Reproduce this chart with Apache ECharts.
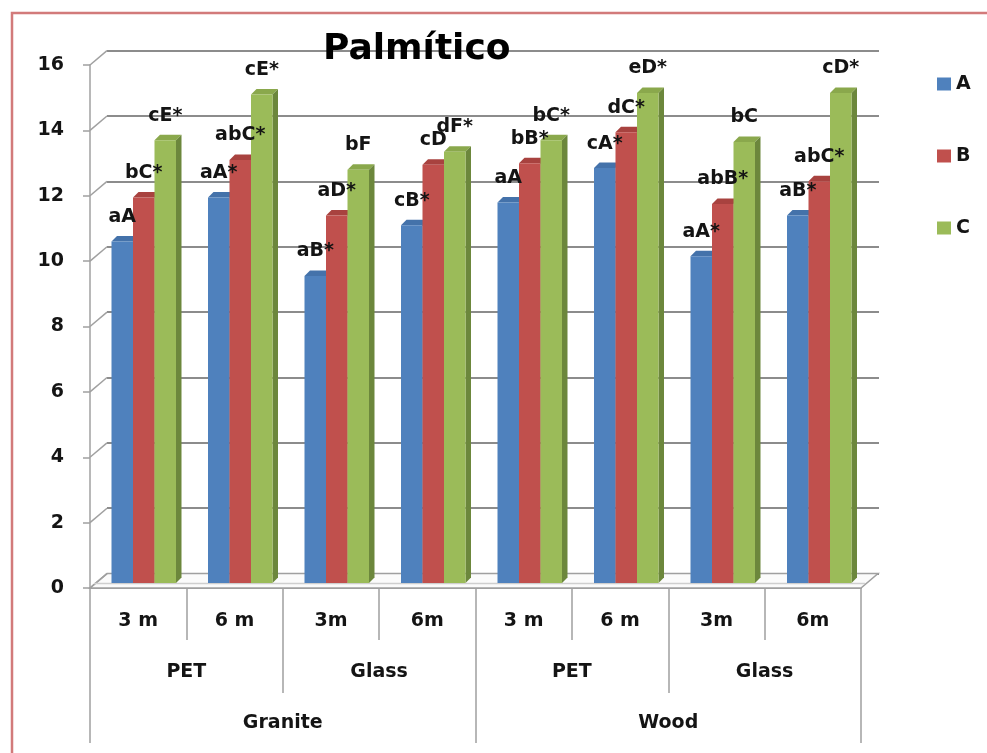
<!DOCTYPE html>
<html>
<head>
<meta charset="utf-8">
<title>Palmítico</title>
<script src="https://cdn.jsdelivr.net/npm/echarts@6/dist/echarts.min.js"></script>
<style>
  html, body { margin: 0; padding: 0; background: #ffffff; }
  #chart { width: 987px; height: 753px; }
</style>
</head>
<body>
<div id="chart"></div>
<script>
// ---- data ----
const storageTimes = ['3 m', '6 m', '3m', '6m', '3 m', '6 m', '3m', '6m'];
const packagings = ['PET', 'Glass', 'PET', 'Glass'];
const substrates = ['Granite', 'Wood'];
const seriesNames = ['A', 'B', 'C'];

const valuesA = [10.45, 11.8, 9.4, 10.95, 11.65, 12.7, 10.0, 11.25];
const valuesB = [11.8, 12.95, 11.25, 12.8, 12.85, 13.8, 11.6, 12.3];
const valuesC = [13.55, 14.95, 12.65, 13.2, 13.55, 15.0, 13.5, 15.0];

const labelsA = ['aA', 'aA*', 'aB*', 'cB*', 'aA', 'cA*', 'aA*', 'aB*'];
const labelsB = ['bC*', 'abC*', 'aD*', 'cD', 'bB*', 'dC*', 'abB*', 'abC*'];
const labelsC = ['cE*', 'cE*', 'bF', 'dF*', 'bC*', 'eD*', 'bC', 'cD*'];

const yTicks = [0, 2, 4, 6, 8, 10, 12, 14, 16];

// ---- styling ----
const FONT = 'DejaVu Sans';
const frontColors = ['#4F81BD', '#C0504D', '#9BBB59'];
const topColors = ['#4472AA', '#A8423F', '#8AA84C'];
const sideColors = ['#3A6394', '#8F3A38', '#6C873C'];
const BAR_W = 21.5;      // front face width of one column
const BAR_D = 5.5;       // column depth (oblique offset)
const WALL_DX = 17;      // front plane -> back wall offset
const WALL_DY = -14.4;
const AXIS_GRAY = '#A0A0A0';

const valueSets = [valuesA, valuesB, valuesC];
const labelSets = [labelsA, labelsB, labelsC];

const chart = echarts.init(document.getElementById('chart'), null, { renderer: 'canvas' });

// column bodies (front faces) with their letter labels
const barSeries = seriesNames.map((name, k) => ({
  name: name,
  type: 'bar',
  xAxisIndex: 3,
  yAxisIndex: 2,
  z: 3,
  barWidth: BAR_W,
  barGap: '0%',
  data: valueSets[k],
  itemStyle: { color: frontColors[k] },
  label: {
    show: true,
    position: 'top',
    distance: 15,
    fontFamily: FONT,
    fontWeight: 'bold',
    fontSize: 19,
    color: '#141414',
    formatter: p => labelSets[k][p.dataIndex]
  }
}));

// top and right faces of each column, giving the 3-D look
const depthSeries = seriesNames.map((name, k) => ({
  name: name + ' depth',
  type: 'custom',
  xAxisIndex: 3,
  yAxisIndex: 2,
  z: 2,
  silent: true,
  data: valueSets[k].map((v, i) => [i, v]),
  encode: { x: 0, y: 1 },
  renderItem: function (params, api) {
    const i = api.value(0);
    const v = api.value(1);
    const top = api.coord([i, v]);
    const base = api.coord([i, 0]);
    const x0 = top[0] + (k - 1.5) * BAR_W;
    const x1 = x0 + BAR_W;
    const y = top[1];
    return {
      type: 'group',
      children: [
        {
          type: 'polygon',
          shape: { points: [[x0, y], [x1, y], [x1 + BAR_D, y - BAR_D], [x0 + BAR_D, y - BAR_D]] },
          style: { fill: topColors[k] }
        },
        {
          type: 'polygon',
          shape: { points: [[x1, y], [x1 + BAR_D, y - BAR_D], [x1 + BAR_D, base[1] - BAR_D], [x1, base[1]]] },
          style: { fill: sideColors[k] }
        }
      ]
    };
  }
}));

// oblique tick links from the front axis to the back wall, plus the floor
const wallLinks = {
  name: 'wall links',
  type: 'custom',
  xAxisIndex: 0,
  yAxisIndex: 1,
  z: 1,
  silent: true,
  data: yTicks.map(v => [0, v]),
  encode: { x: 0, y: 1 },
  renderItem: function (params, api) {
    const cs = params.coordSys;
    const v = api.value(1);
    const y = api.coord([0, v])[1];
    const children = [{
      type: 'line',
      shape: { x1: cs.x, y1: y, x2: cs.x + WALL_DX, y2: y + WALL_DY },
      style: { stroke: AXIS_GRAY, lineWidth: 1.5 }
    }];
    if (v === 0) {
      const xr = cs.x + cs.width;
      children.unshift({
        type: 'polygon',
        shape: { points: [[cs.x, y], [xr, y], [xr + WALL_DX, y + WALL_DY], [cs.x + WALL_DX, y + WALL_DY]] },
        style: { fill: '#FBFBFB', stroke: AXIS_GRAY, lineWidth: 1.5 }
      });
      children.push({
        type: 'line',
        shape: { x1: cs.x + 4, y1: y - 4.5, x2: xr + 4, y2: y - 4.5 },
        style: { stroke: '#CFCFCF', lineWidth: 1.5 }
      });
    }
    return { type: 'group', children: children };
  }
};

const labelFont = { fontFamily: FONT, fontWeight: 'bold', fontSize: 19, color: '#141414' };

const option = {
  animation: false,
  backgroundColor: '#ffffff',
  title: {
    text: 'Palmítico',
    left: 318,
    top: 27,
    textStyle: { fontFamily: FONT, fontWeight: 'bold', fontSize: 36, color: '#000000' }
  },
  legend: {
    data: seriesNames,
    orient: 'vertical',
    left: 932,
    top: 69,
    itemWidth: 14,
    itemHeight: 13,
    itemGap: 52,
    icon: 'rect',
    textStyle: Object.assign({ lineHeight: 20 }, labelFont)
  },
  graphic: [{
    type: 'rect',
    silent: true,
    shape: { x: 12, y: 13, width: 1100, height: 900 },
    style: { fill: 'none', stroke: '#D27A7A', lineWidth: 2.5 }
  }],
  grid: [
    // back wall
    { left: 107, right: 108, top: 50.7, bottom: 179.6 },
    // front plane: value axis and category axis
    { left: 90, right: 126, top: 65, bottom: 165 },
    // columns
    { left: 95.5, right: 119.5, top: 60.3, bottom: 170 }
  ],
  xAxis: [
    {
      gridIndex: 1, type: 'category', position: 'bottom', data: storageTimes,
      axisLine: { show: true, lineStyle: { color: AXIS_GRAY, width: 2 } },
      axisTick: { show: true, interval: 0, length: 52, lineStyle: { color: AXIS_GRAY, width: 1.5 } },
      axisLabel: Object.assign({ interval: 0, margin: 24 }, labelFont)
    },
    {
      gridIndex: 1, type: 'category', position: 'bottom', data: packagings,
      axisLine: { show: false },
      axisTick: { show: true, interval: 0, length: 105, lineStyle: { color: AXIS_GRAY, width: 1.5 } },
      axisLabel: Object.assign({ interval: 0, margin: 75 }, labelFont)
    },
    {
      gridIndex: 1, type: 'category', position: 'bottom', data: substrates,
      axisLine: { show: false },
      axisTick: { show: true, interval: 0, length: 155, lineStyle: { color: AXIS_GRAY, width: 1.5 } },
      axisLabel: Object.assign({ interval: 0, margin: 126 }, labelFont)
    },
    { gridIndex: 2, type: 'category', data: storageTimes, show: false },
    { gridIndex: 0, type: 'category', data: storageTimes, show: false }
  ],
  yAxis: [
    {
      gridIndex: 0, type: 'value', min: 0, max: 16, interval: 2,
      axisLine: { show: false }, axisTick: { show: false }, axisLabel: { show: false },
      splitLine: { show: true, lineStyle: { color: '#8C8C8C', width: 2 } }
    },
    {
      gridIndex: 1, type: 'value', min: 0, max: 16, interval: 2,
      axisLine: { show: true, lineStyle: { color: AXIS_GRAY, width: 1.5 } },
      axisTick: { show: true, length: 7, lineStyle: { color: AXIS_GRAY, width: 1.5 } },
      axisLabel: Object.assign({ margin: 26 }, labelFont),
      splitLine: { show: false }
    },
    { gridIndex: 2, type: 'value', min: 0, max: 16, interval: 2, show: false, splitLine: { show: false } }
  ],
  series: [wallLinks].concat(depthSeries, barSeries)
};

chart.setOption(option);
</script>
</body>
</html>
